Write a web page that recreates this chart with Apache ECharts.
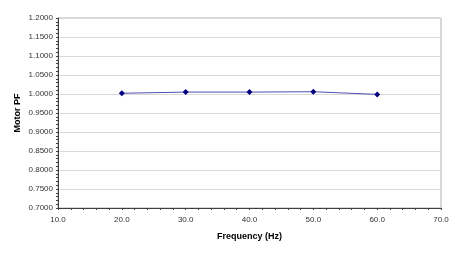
<!DOCTYPE html>
<html><head><meta charset="utf-8">
<script src="https://cdn.jsdelivr.net/npm/echarts@6/dist/echarts.min.js"></script>
<style>html,body{margin:0;padding:0;background:#fff}#c{width:460px;height:257px}</style>
</head><body><div id="c"></div>
<script>
const frequency = [20, 30, 40, 50, 60];
const motorPF = [1.002, 1.005, 1.005, 1.006, 0.999];
const xTitle = 'Frequency (Hz)';
const yTitle = 'Motor PF';

const chart = echarts.init(document.getElementById('c'), null, {renderer:'canvas'});
const font = 'Liberation Sans, Arial, sans-serif';
chart.setOption({
  animation: false,
  grid: {left: 58, right: 19, top: 18, bottom: 49, show: true, borderColor: '#b0b0b0', borderWidth: 1, backgroundColor: '#fff'},
  xAxis: {
    type: 'value', min: 10, max: 70, interval: 10,
    name: xTitle, nameLocation: 'middle', nameGap: 24, nameMoveOverlap: false,
    nameTextStyle: {fontFamily: font, fontWeight: 'bold', fontSize: 9, color: '#000'},
    axisLine: {show: true, lineStyle: {color: '#404040', width: 1}},
    axisTick: {show: true, length: 2, lineStyle: {color: '#404040'}},
    minorTick: {show: true, splitNumber: 5, length: 2, lineStyle: {color: '#404040'}},
    splitLine: {show: false},
    axisLabel: {fontFamily: font, fontSize: 8, color: '#333', margin: 8, formatter: v => v.toFixed(1)}
  },
  yAxis: {
    type: 'value', min: 0.7, max: 1.2, interval: 0.05,
    name: yTitle, nameLocation: 'middle', nameGap: 36, nameMoveOverlap: false,
    nameTextStyle: {fontFamily: font, fontWeight: 'bold', fontSize: 9, color: '#000'},
    axisLine: {show: true, lineStyle: {color: '#404040', width: 1}},
    axisTick: {show: true, length: 2, lineStyle: {color: '#404040'}},
    minorTick: {show: true, splitNumber: 5, length: 2, lineStyle: {color: '#404040'}},
    splitLine: {show: true, lineStyle: {color: '#d9d9d9', width: 1}},
    axisLabel: {fontFamily: font, fontSize: 8, color: '#333', margin: 5, formatter: v => v.toFixed(4)}
  },
  series: [{
    type: 'line',
    data: frequency.map((f, i) => [f, motorPF[i]]),
    symbol: 'diamond', symbolSize: 6,
    itemStyle: {color: '#000080'},
    lineStyle: {color: '#5050b0', width: 1}
  }]
});
</script></body></html>
